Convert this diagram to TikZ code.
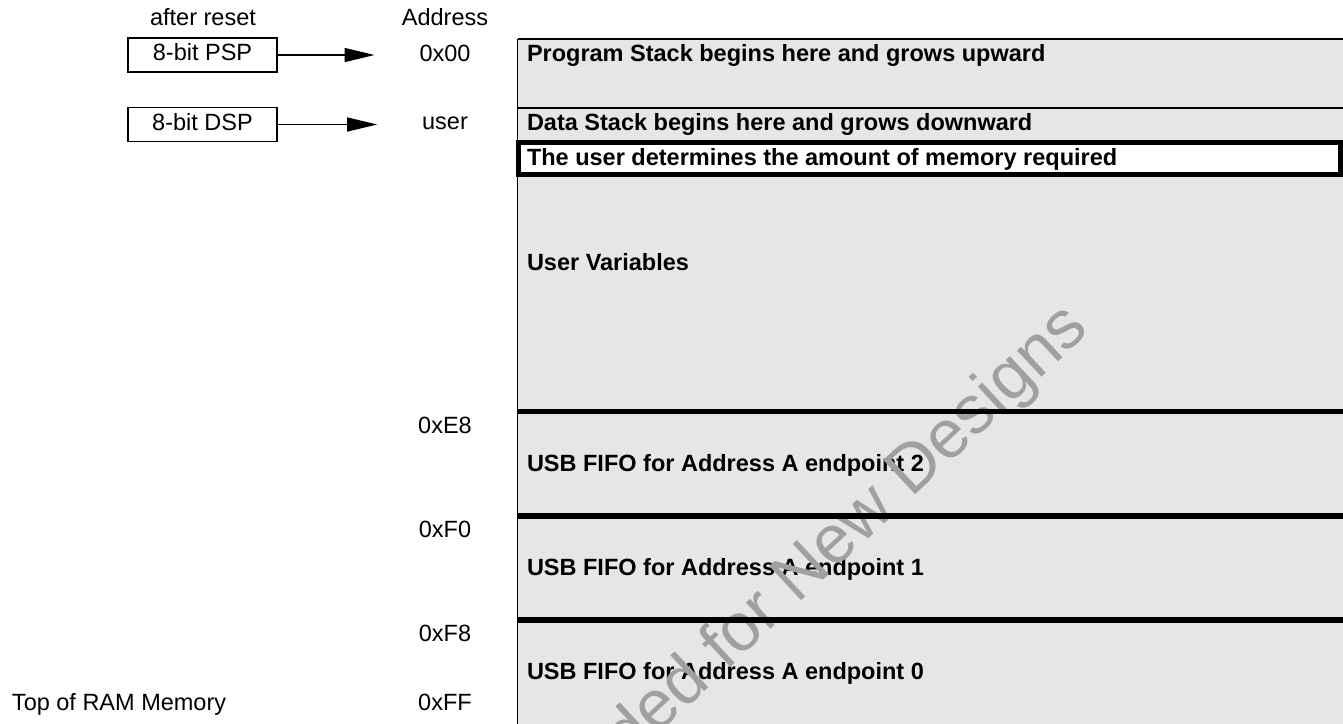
\documentclass[tikz,border=0pt]{standalone}
\usepackage{fontspec}
\setmainfont{Liberation Sans}
\usetikzlibrary{arrows.meta}
\definecolor{memgray}{HTML}{E6E6E6}
\definecolor{wmgray}{HTML}{A0A0A0}
\begin{document}
\begin{tikzpicture}[x=1pt,y=-1pt,
  every node/.style={inner sep=0pt, outer sep=0pt, font=\fontsize{23.5}{28}\selectfont},
  lbl/.style={anchor=base},
  memtext/.style={anchor=base west, font=\fontsize{23.5}{28}\selectfont\bfseries},
  regbox/.style={draw, line width=1.4pt, minimum width=149pt, minimum height=34pt,
    text height=17pt, text depth=6pt},
  ptr/.style={line width=1.4pt, -{Triangle[length=30pt,width=14pt]}, shorten >=45pt},
  thinline/.style={line width=1.5pt},
  thickline/.style={line width=5.3pt}]
\useasboundingbox (0,0) rectangle (1343,723);
\clip (0,0) rectangle (1343,723);

% memory block background
\fill[memgray] (517.5,39) rectangle (1360,740);

% left column labels
\node[lbl] (after) at (203,25) {after reset};
\node[lbl] (addr) at (445,25) {Address};
\node[regbox] (psp) at (202.5,55) {8-bit PSP};
\node[regbox] (dsp) at (202.5,124.5) {8-bit DSP};
\node[lbl] (a00) at (445,61) {0x00};
\node[lbl] (auser) at (445,129) {user};
\node[lbl] (ae8) at (445,433) {0xE8};
\node[lbl] (af0) at (445,537) {0xF0};
\node[lbl] (af8) at (445,641) {0xF8};
\node[lbl] (aff) at (445,710) {0xFF};
\node[anchor=base west] (top) at (12,710) {Top of RAM Memory};

\draw[ptr] (psp.east) -- (psp.east -| a00.west);
\draw[ptr] (dsp.east) -- (dsp.east -| auser.west);

% region texts
\node[memtext] (prog) at (527,61) {Program Stack begins here and grows upward};
\node[memtext] (data) at (527,130) {Data Stack begins here and grows downward};
\node[memtext] (uvar) at (527,270) {User Variables};
\node[memtext] (ep2) at (527,471.5) {USB FIFO for Address A endpoint 2};
\node[memtext] (ep1) at (527,575.5) {USB FIFO for Address A endpoint 1};
\node[memtext] (ep0) at (527,679) {USB FIFO for Address A endpoint 0};

% watermark
\node[rotate=43, anchor=base east, text=wmgray, font=\fontsize{68}{72}\selectfont] (wm) at (1091,331) {Not Recommended for New Designs};

% borders and separators
\draw[thinline] (517.5,39) -- (1360,39);
\draw[thinline] (517.5,39) -- (517.5,740);
\draw[thinline] (517.5,108) -- (1360,108);
\draw[thickline] (517.5,411.7) -- (1360,411.7);
\draw[thickline] (517.5,516) -- (1360,516);
\draw[thickline] (517.5,620) -- (1360,620);

% user-determined box
\filldraw[fill=white, line width=5pt] (518,142.5) rectangle (1340.5,174);
\node[memtext] (udet) at (527,165) {The user determines the amount of memory required};
\end{tikzpicture}
\end{document}
